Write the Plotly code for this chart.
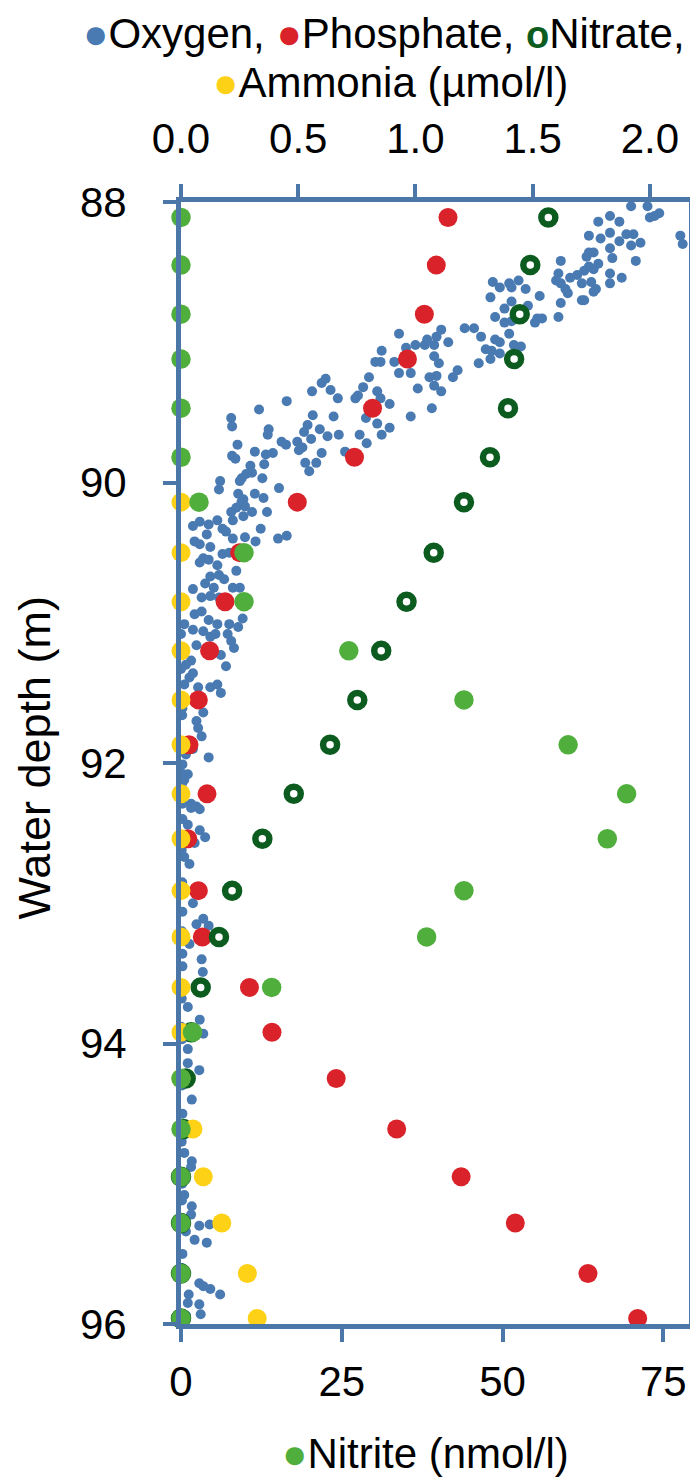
import plotly.graph_objects as go

# ---------------- data ----------------
depth = [88.11, 88.45, 88.80, 89.12, 89.47, 89.82, 90.14, 90.50, 90.85, 91.20, 91.55, 91.87,
         92.22, 92.54, 92.91, 93.24, 93.60, 93.92, 94.25, 94.61, 94.95, 95.28, 95.64, 95.96]
phosphate = [1.139, 1.089, 1.038, 0.966, 0.817, 0.740, 0.496, 0.250, 0.188, 0.122, 0.074, 0.034,
             0.111, 0.029, 0.074, 0.091, 0.292, 0.388, 0.662, 0.920, 1.195, 1.426, 1.736, 1.948]
nitrate = [1.567, 1.490, 1.445, 1.421, 1.395, 1.318, 1.207, 1.078, 0.962, 0.854, 0.752, 0.636,
           0.481, 0.347, 0.218, 0.162, 0.084, 0.044, 0.020, 0.010, 0.0, 0.0, 0.0, 0.0]
nitrite = [0, 0, 0, 0, 0, 0, 2.8, 9.8, 9.8, 26.1, 44.0, 60.2,
           69.3, 66.3, 44.0, 38.2, 14.1, 1.8, 0, 0, 0, 0, 0, 0]
ammonia_depth = [90.14, 90.50, 90.85, 91.20, 91.55, 91.87, 92.22, 92.54, 92.91, 93.24, 93.60,
                 93.92, 94.25, 94.61, 94.95, 95.28, 95.64, 95.96]
ammonia = [0, 0, 0, 0, 0, 0, 0, 0, 0, 0, 0, 0, 0, 0.051, 0.095, 0.174, 0.283, 0.325]

oxygen_value = [
    1.92, 1.99, 2.00, 2.02, 2.04, 1.78, 1.83, 1.87, 1.74, 1.79, 1.83, 1.87, 1.90, 1.93, 1.92, 1.96,
    2.13, 2.14, 1.83, 1.84, 1.94, 1.74, 1.76, 1.73, 1.78, 1.76, 1.62, 1.61, 1.66, 1.69, 1.72, 1.74,
    1.71, 1.75, 1.77, 1.76, 1.71, 1.72, 1.62, 1.60, 1.62, 1.64, 1.65, 1.83, 1.88, 1.83, 1.61, 1.33,
    1.36, 1.40, 1.41, 1.44, 1.47, 1.53, 1.32, 1.41, 1.48, 1.34, 1.38, 1.38, 1.41, 1.51, 1.54, 1.52,
    1.21, 1.25, 1.28, 1.34, 1.36, 1.40, 1.30, 1.325, 1.36, 1.42, 1.45, 1.27, 1.32, 0.93, 0.96, 1.00,
    1.04, 1.05, 1.08, 1.09, 1.11, 1.14, 1.08, 1.10, 0.91, 0.93, 0.98, 1.06, 1.09, 1.08, 1.11, 1.01,
    1.16, 1.18, 0.89, 1.07, 0.98, 0.89,
    0.856, 0.829, 0.851, 0.802, 0.777, 0.744, 0.755, 0.837, 0.851, 0.789, 0.837, 0.856, 0.762, 0.792,
    0.700, 0.673, 0.625, 0.651, 0.669, 0.638, 0.617, 0.600, 0.559, 0.562, 0.540, 0.592, 0.525, 0.555,
    0.600, 0.577, 0.530, 0.547, 0.496, 0.518, 0.503, 0.451, 0.429, 0.448, 0.374, 0.370, 0.392, 0.362,
    0.355, 0.347, 0.418, 0.315, 0.333, 0.241, 0.214, 0.218, 0.218, 0.232, 0.296, 0.303, 0.278, 0.259,
    0.251, 0.167, 0.162, 0.244, 0.266, 0.315, 0.352,
    0.258, 0.273, 0.236, 0.303, 0.214, 0.367, 0.266, 0.221, 0.051, 0.080, 0.118, 0.155, 0.177, 0.192,
    0.110, 0.221, 0.273, 0.318, 0.340, 0.414, 0.451, 0.058, 0.080, 0.125, 0.095, 0.080, 0.118, 0.155,
    0.177, 0.206, 0.162, 0.125, 0.103, 0.140, 0.184, 0.221, 0.251, 0.236, 0.051, 0.088, 0.125, 0.162,
    0.199, 0.058, 0.088, 0.118, 0.155, 0.206, 0.263, 0.244, 0.014, 0.000, 0.051, 0.095, 0.125, 0.147,
    0.199, 0.214, 0.226, 0.170, 0.192, 0.066, 0.043, 0.021, 0.000, 0.051, 0.036, 0.014, 0.073, 0.125,
    0.155, 0.170, 0.095, 0.066, 0.073, 0.088, 0.051, 0.118, 0.021, 0.006, 0.000, 0.014, 0.029, 0.043,
    0.066, 0.000, 0.006,
    0.006, 0.043, 0.080, 0.029, 0.080, 0.103, 0.058, 0.036, 0.014, 0.051, 0.006, 0.095, 0.066, 0.118,
    0.036, 0.088, 0.006, 0.093, 0.029, 0.080, 0.095, 0.029, 0.029, 0.078, 0.046, 0.014, 0.000,
    0.014, 0.046, 0.043, 0.014, 0.046, 0.043, 0.021, 0.078, 0.122, 0.058, 0.110, 0.078, 0.095, 0.125,
    0.167, 0.033, 0.029, 0.078, 0.084, 0.021,
    0.005, 0.004, 0.006, 0.003, 0.005, 0.004, 0.006, 0.003, 0.005, 0.004, 0.006, 0.003, 0.005, 0.004,
    0.006, 0.003,
]
oxygen_depth = [
    88.03, 88.03, 88.11, 88.10, 88.08, 88.14, 88.10, 88.14, 88.24, 88.26, 88.22, 88.28, 88.23, 88.23,
    88.31, 88.29, 88.24, 88.30, 88.33, 88.40, 88.42, 88.36, 88.36, 88.39, 88.44, 88.48, 88.42, 88.51,
    88.54, 88.52, 88.49, 88.46, 88.58, 88.57, 88.62, 88.64, 88.70, 88.70, 88.72, 88.56, 88.58, 88.62,
    88.65, 88.51, 88.54, 88.58, 88.82, 88.57, 88.61, 88.58, 88.61, 88.56, 88.62, 88.67, 88.68, 88.71,
    88.74, 88.82, 88.76, 88.86, 88.85, 88.86, 88.83, 88.83, 88.90, 88.90, 88.96, 88.98, 89.00, 88.94,
    89.05, 89.06, 89.08, 89.02, 89.03, 89.15, 89.12, 88.94, 89.04, 89.02, 89.02, 88.98, 89.02, 88.96,
    88.91, 89.00, 89.10, 89.15, 89.14, 89.22, 89.22, 89.25, 89.24, 89.31, 89.35, 89.33, 89.25, 89.20,
    89.44, 89.47, 89.53, 89.61,
    89.06, 89.14, 89.14, 89.25, 89.32, 89.40, 89.38, 89.35, 89.40, 89.54, 89.58, 89.66, 89.66, 89.72,
    89.78, 89.66, 89.67, 89.53, 89.40, 89.34, 89.26, 89.29, 89.35, 89.52, 89.59, 89.62, 89.64, 89.69,
    89.79, 89.86, 89.86, 89.92, 89.71, 89.75, 89.77, 89.42, 89.71, 89.73, 89.62, 89.66, 89.79, 89.80,
    89.87, 89.97, 90.04, 89.78, 89.48, 89.73, 89.54, 89.60, 89.81, 89.83, 89.88, 89.93, 89.94, 89.97,
    89.99, 89.99, 90.05, 90.08, 90.12, 90.08, 90.11,
    90.14, 90.17, 90.18, 90.21, 90.21, 90.21, 90.24, 90.27, 90.31, 90.28, 90.30, 90.27, 90.33, 90.35,
    90.37, 90.40, 90.39, 90.42, 90.33, 90.40, 90.38, 90.42, 90.44, 90.46, 90.54, 90.57, 90.55, 90.59,
    90.51, 90.50, 90.66, 90.67, 90.72, 90.75, 90.69, 90.75, 90.75, 90.63, 90.76, 90.82, 90.81, 90.82,
    90.86, 90.94, 90.92, 90.98, 91.01, 91.01, 90.97, 91.03, 91.01, 91.08, 91.05, 91.06, 91.10, 91.08,
    91.08, 91.13, 91.18, 91.23, 91.31, 91.16, 91.27, 91.30, 91.33, 91.36, 91.39, 91.44, 91.46, 91.46,
    91.44, 91.50, 91.64, 91.70, 91.75, 91.81, 91.90, 91.96, 91.94, 92.01, 92.07, 92.12, 92.08, 92.29,
    92.31, 91.58, 91.61,
    92.29, 92.32, 92.33, 92.44, 92.48, 92.53, 92.57, 92.72, 92.67, 93.00, 93.06, 93.11, 93.15, 93.16,
    93.29, 93.40, 93.36, 93.49, 93.74, 93.83, 93.93, 94.04, 94.14, 94.19, 94.40, 93.60, 93.88,
    94.78, 94.84, 94.88, 95.08, 95.16, 95.22, 95.34, 95.30, 95.29, 95.40, 95.42, 95.71, 95.73, 95.75,
    95.79, 95.79, 95.85, 95.86, 95.93, 95.94,
    91.66, 92.15, 92.40, 92.62, 92.85, 93.20, 93.45, 93.68, 93.97, 94.30, 94.50, 94.70, 95.00, 95.12,
    95.50, 95.60,
]

top_ticks = [0.0, 0.5, 1.0, 1.5, 2.0]
top_ticklabels = ["0.0", "0.5", "1.0", "1.5", "2.0"]
bottom_ticks = [0, 25, 50, 75]
depth_ticks = [88, 90, 92, 94, 96]

# ---------------- styling ----------------
FONT = "Liberation Sans, Arial, sans-serif"
BORDER = "#4A76A8"
C_OXY = "#4A7AB2"
C_PHO = "#D9222A"
C_NIA = "#0B5C1E"
C_AMM = "#FCD116"
C_NII = "#50AE3C"

W, H = 698, 1482
PL, PR, PT, PB = 173, 686, 194, 1316


def px_x(px):
    return (px - PL) / (PR - PL)


def px_y(py):
    return (PB - py) / (PB - PT)


fig = go.Figure()
# µmol/l series on the top axis (x), nitrite on the overlaid bottom axis (x2, drawn above)
fig.add_trace(go.Scatter(x=oxygen_value, y=oxygen_depth, xaxis="x", mode="markers", cliponaxis=False,
                         marker=dict(size=10, color=C_OXY, line=dict(width=0)), name="Oxygen"))
fig.add_trace(go.Scatter(x=phosphate, y=depth, xaxis="x", mode="markers", cliponaxis=False,
                         marker=dict(size=19, color=C_PHO, line=dict(width=0)), name="Phosphate"))
fig.add_trace(go.Scatter(x=nitrate, y=depth, xaxis="x", mode="markers", cliponaxis=False,
                         marker=dict(size=14, symbol="circle-open", color=C_NIA,
                                     line=dict(width=6.5, color=C_NIA)), name="Nitrate"))
fig.add_trace(go.Scatter(x=ammonia, y=ammonia_depth, xaxis="x", mode="markers", cliponaxis=False,
                         marker=dict(size=19, color=C_AMM, line=dict(width=0)), name="Ammonia"))
fig.add_trace(go.Scatter(x=nitrite, y=depth, xaxis="x2", mode="markers", cliponaxis=False,
                         marker=dict(size=19.5, color=C_NII, line=dict(width=0)), name="Nitrite"))

axis_common = dict(showgrid=False, zeroline=False, showline=True, linecolor=BORDER, linewidth=5,
                   ticks="outside", ticklen=13, tickwidth=3.5, tickcolor=BORDER,
                   tickfont=dict(family=FONT, size=42, color="black"))

fig.update_layout(
    width=W, height=H,
    margin=dict(l=PL, r=W - PR, t=PT, b=H - PB, pad=0),
    paper_bgcolor="white", plot_bgcolor="white",
    showlegend=False,
    xaxis=dict(range=[0, 2.167], side="top", tickvals=top_ticks,
               ticktext=top_ticklabels, ticklabelstandoff=14, **axis_common),
    xaxis2=dict(range=[0, 79.0], overlaying="x", side="bottom", tickvals=bottom_ticks,
                ticklabelstandoff=4, **axis_common),
    yaxis=dict(range=[96, 88], tickvals=depth_ticks, mirror=True, ticklabelstandoff=28,
               **axis_common),
)

ann_font = dict(family=FONT, size=42, color="black")
line1 = (f"<span style='color:{C_OXY}'>●</span>Oxygen, "
         f"<span style='color:{C_PHO}'>●</span>Phosphate, "
         f"<span style='color:{C_NIA};font-size:38px'><b>o</b></span>Nitrate,")
line2 = f"<span style='color:{C_AMM}'>●</span>Ammonia (µmol/l)"
line3 = f"<span style='color:{C_NII}'>●</span>Nitrite (nmol/l)"

fig.add_annotation(text=line1, xref="paper", yref="paper", x=px_x(378), y=px_y(25.5),
                   xanchor="center", yanchor="middle", showarrow=False, font=ann_font, borderpad=0)
fig.add_annotation(text=line2, xref="paper", yref="paper", x=px_x(385), y=px_y(74),
                   xanchor="center", yanchor="middle", showarrow=False, font=ann_font, borderpad=0)
fig.add_annotation(text=line3, xref="paper", yref="paper", x=px_x(420), y=px_y(1445),
                   xanchor="center", yanchor="middle", showarrow=False, font=ann_font, borderpad=0)
fig.add_annotation(text="Water depth (m)", xref="paper", yref="paper", x=px_x(26), y=px_y(750),
                   xanchor="center", yanchor="middle", textangle=-90, showarrow=False,
                   font=dict(family=FONT, size=45, color="black"), borderpad=0)

fig.write_html("out.html")
